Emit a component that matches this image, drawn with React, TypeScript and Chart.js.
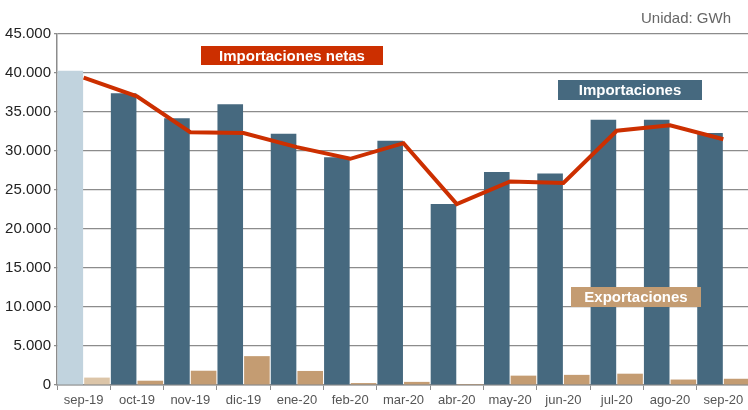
import React, { useEffect, useRef } from "react";
import { Chart, registerables } from "chart.js";

Chart.register(...registerables);

const categories = ["sep-19", "oct-19", "nov-19", "dic-19", "ene-20", "feb-20", "mar-20", "abr-20", "may-20", "jun-20", "jul-20", "ago-20", "sep-20"];
const importaciones = [40300, 37400, 34200, 36000, 32200, 29200, 31300, 23200, 27300, 27100, 34000, 34000, 32300];
const exportaciones = [950, 550, 1830, 3700, 1800, 250, 400, 20, 1200, 1300, 1450, 700, 800];
const importacionesNetas = [39400, 37000, 32400, 32300, 30500, 29000, 31000, 23200, 26100, 25900, 32600, 33300, 31500];
const yTicks = [0, 5000, 10000, 15000, 20000, 25000, 30000, 35000, 40000, 45000];

const IMP = "#46697f";
const IMP_LIGHT = "#c1d3de";
const EXP = "#c49c72";
const EXP_LIGHT = "#dcc5a8";
const RED = "#cc2f00";

const fmt = (v: number) => v.toLocaleString("de-DE");

const labelsPlugin = {
  id: "labelsPlugin",
  afterDraw(chart: any) {
    const ctx = chart.ctx;
    ctx.save();
    const box = (x: number, y: number, w: number, h: number, bg: string, text: string) => {
      ctx.fillStyle = bg;
      ctx.fillRect(x, y, w, h);
      ctx.fillStyle = "#ffffff";
      ctx.font = "bold 15px 'Liberation Sans', Arial, sans-serif";
      ctx.textAlign = "center";
      ctx.textBaseline = "middle";
      ctx.fillText(text, x + w / 2, y + h / 2 + 1);
    };
    box(201, 46, 182, 19, RED, "Importaciones netas");
    box(558, 80, 144, 20, IMP, "Importaciones");
    box(571, 287, 130, 20, EXP, "Exportaciones");
    ctx.fillStyle = "#666666";
    ctx.font = "15px 'Liberation Sans', Arial, sans-serif";
    ctx.textAlign = "right";
    ctx.textBaseline = "middle";
    ctx.fillText("Unidad: GWh", 731, 19);
    ctx.restore();
  },
};

export default function App() {
  const ref = useRef<HTMLCanvasElement>(null);
  useEffect(() => {
    if (!ref.current) return;
    const chart = new Chart(ref.current, {
      type: "bar",
      data: {
        labels: categories,
        datasets: [
          {
            type: "line",
            label: "Importaciones netas",
            data: importacionesNetas,
            borderColor: RED,
            backgroundColor: RED,
            borderWidth: 4,
            pointRadius: 0,
            tension: 0,
            order: 0,
          } as any,
          {
            label: "Importaciones",
            data: importaciones,
            backgroundColor: importaciones.map((_, i) => (i === 0 ? IMP_LIGHT : IMP)),
            categoryPercentage: 1,
            barPercentage: 0.96,
            order: 1,
          },
          {
            label: "Exportaciones",
            data: exportaciones,
            backgroundColor: exportaciones.map((_, i) => (i === 0 ? EXP_LIGHT : EXP)),
            categoryPercentage: 1,
            barPercentage: 0.96,
            order: 1,
          },
        ],
      },
      options: {
        animation: false,
        responsive: false,
        maintainAspectRatio: false,
        layout: { padding: { top: 34, right: 0, bottom: 0, left: 0 } },
        plugins: { legend: { display: false }, tooltip: { enabled: false } },
        scales: {
          x: {
            offset: true,
            grid: { display: true, drawOnChartArea: false, drawTicks: true, tickLength: 5, color: "#8c8c8c", offset: true },
            border: { display: true, color: "#8c8c8c", width: 1.5 },
            ticks: { color: "#555555", font: { family: "'Liberation Sans', Arial, sans-serif", size: 13 }, padding: 3, maxRotation: 0, autoSkip: false },
            afterFit: (s: any) => { s.height = 25; },
          },
          y: {
            min: 0,
            max: 45000,
            afterBuildTicks: (s: any) => { s.ticks = yTicks.map((v) => ({ value: v })); },
            grid: { color: "#8c8c8c", lineWidth: 1.2, tickLength: 3, drawTicks: true },
            border: { display: true, color: "#8c8c8c", width: 1.5 },
            ticks: { color: "#222222", font: { family: "'Liberation Sans', Arial, sans-serif", size: 15 }, padding: 3, callback: (v: any) => fmt(Number(v)) },
            afterFit: (s: any) => { s.width = 57; },
          },
        },
      },
      plugins: [labelsPlugin],
    });
    return () => chart.destroy();
  }, []);
  return (
    <div style={{ position: "fixed", left: 0, top: 0, width: 748, height: 410, overflow: "hidden", background: "#fff" }}>
      <canvas ref={ref} width={750} height={410} style={{ width: 750, height: 410, display: "block" }} />
    </div>
  );
}
